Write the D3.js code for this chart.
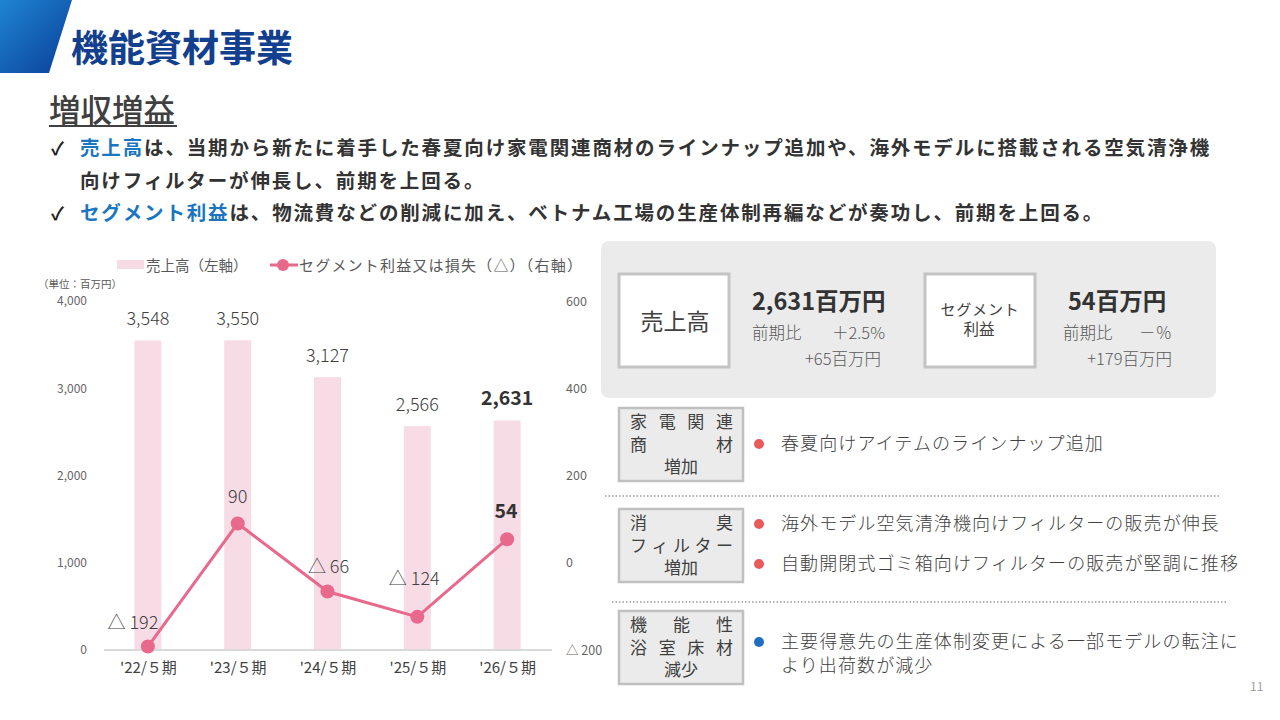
<!DOCTYPE html>
<html><head><meta charset="utf-8">
<script src="https://cdn.jsdelivr.net/npm/d3@7"></script>
<style>
html,body{margin:0;padding:0;background:#fff;}
svg text{font-family:"Noto Sans CJK JP","Noto Sans",sans-serif;}
</style></head>
<body><svg id="c" width="1280" height="720"></svg>
<script>
// ---- data ----
const categories = ["'22/５期","'23/５期","'24/５期","'25/５期","'26/５期"];
const sales = [3548, 3550, 3127, 2566, 2631];
const profit = [-192, 90, -66, -124, 54];
const leftTicks = [0, 1000, 2000, 3000, 4000];
const rightTicks = [-200, 0, 200, 400, 600];
const legendLabels = ["売上高（左軸）", "セグメント利益又は損失（△）（右軸）"];
const unitLabel = "（単位：百万円）";

const svg = d3.select("#c");
const fmtP = d => d < 0 ? "△ " + (-d) : String(d);

// ---- header ----
const defs = svg.append("defs");
const g1 = defs.append("linearGradient").attr("id","hg").attr("x1","0").attr("y1","0").attr("x2","1").attr("y2","1");
g1.append("stop").attr("offset","0").attr("stop-color","#1f84d2");
g1.append("stop").attr("offset","1").attr("stop-color","#0a3f98");
svg.append("path").attr("d","M0,0 L72,0 L49,73 L0,73 Z").attr("fill","url(#hg)");
svg.append("text").attr("x",71).attr("y",62).attr("font-size",37).attr("font-weight",700)
  .attr("fill","#123f8e").text("機能資材事業");

svg.append("text").attr("x",49).attr("y",122).attr("font-size",31.5).attr("font-weight",500)
  .attr("fill","#404040").text("増収増益");
svg.append("rect").attr("x",49).attr("y",125).attr("width",128).attr("height",2).attr("fill","#404040");

const bullets = [
  {y:155, check:true, parts:[["売上高","#1a76c0"],["は、当期から新たに着手した春夏向け家電関連商材のラインナップ追加や、海外モデルに搭載される空気清浄機","#333"]]},
  {y:188, check:false, parts:[["向けフィルターが伸長し、前期を上回る。","#333"]]},
  {y:220, check:true, parts:[["セグメント利益","#1a76c0"],["は、物流費などの削減に加え、ベトナム工場の生産体制再編などが奏功し、前期を上回る。","#333"]]}
];
bullets.forEach(b => {
  if (b.check) svg.append("text").attr("x",51).attr("y",b.y).attr("font-size",18).attr("font-weight",700).attr("fill","#222")
    .attr("font-family","DejaVu Sans").text("✓");
  const t = svg.append("text").attr("x",80).attr("y",b.y).attr("font-size",19.5).attr("font-weight",700)
    .attr("letter-spacing",1.85);
  b.parts.forEach(p => t.append("tspan").attr("fill",p[1]).text(p[0]));
});

// ---- chart ----
const x = d3.scalePoint().domain(categories).range([103, 552]).padding(0.5);
const yL = d3.scaleLinear().domain([0, 4000]).range([650, 301]);
const yR = d3.scaleLinear().domain([-200, 600]).range([650, 301]);
const barW = 27;

// legend
svg.append("rect").attr("x",117).attr("y",260).attr("width",27).attr("height",9).attr("fill","#f7dce6");
svg.append("text").attr("x",146).attr("y",271).attr("font-size",14.5).attr("fill","#595959").text(legendLabels[0]);
svg.append("line").attr("x1",270).attr("x2",298).attr("y1",265).attr("y2",265).attr("stroke","#e8698b").attr("stroke-width",3);
svg.append("circle").attr("cx",283).attr("cy",265).attr("r",6).attr("fill","#e8698b");
svg.append("text").attr("x",299).attr("y",271).attr("font-size",15).attr("letter-spacing",1.2).attr("fill","#595959").text(legendLabels[1]);
svg.append("text").attr("x",38).attr("y",288).attr("font-size",10.5).attr("fill","#595959").text(unitLabel);

// bars
svg.append("g").selectAll("rect").data(sales).join("rect")
  .attr("x",(d,i)=>x(categories[i]) - barW/2).attr("width",barW)
  .attr("y",d=>yL(d)).attr("height",d=>yL(0)-yL(d)).attr("fill","#f7dce6");

// baseline
svg.append("line").attr("x1",104).attr("x2",552).attr("y1",650).attr("y2",650).attr("stroke","#d9d9d9").attr("stroke-width",2);

// axes
const axL = svg.append("g").attr("transform","translate(90,0)")
  .call(d3.axisLeft(yL).tickValues(leftTicks).tickFormat(d3.format(",")).tickSize(0).tickPadding(3));
axL.select(".domain").remove();
axL.selectAll("text").attr("font-size",12).attr("fill","#666").attr("font-family","'Noto Sans CJK JP',sans-serif");

const axR = svg.append("g").attr("transform","translate(563,0)")
  .call(d3.axisRight(yR).tickValues(rightTicks).tickFormat(fmtP).tickSize(0).tickPadding(3));
axR.select(".domain").remove();
axR.selectAll("text").attr("font-size",12.5).attr("fill","#666").attr("font-family","'Noto Sans CJK JP',sans-serif");

const axB = svg.append("g").attr("transform","translate(0,650)")
  .call(d3.axisBottom(x).tickSize(0).tickPadding(12));
axB.select(".domain").remove();
axB.selectAll("text").attr("font-size",15).attr("fill","#404040").attr("font-family","'Noto Sans CJK JP',sans-serif");

// bar labels
svg.append("g").selectAll("text").data(sales).join("text")
  .attr("x",(d,i)=>x(categories[i])).attr("y",d=>yL(d)-15)
  .attr("text-anchor","middle")
  .attr("font-size",(d,i)=> i===sales.length-1 ? 19.5 : 18)
  .attr("font-weight",(d,i)=> i===sales.length-1 ? 700 : 300)
  .attr("fill",(d,i)=> i===sales.length-1 ? "#333" : "#404040")
  .text(d3.format(","));

// line
const line = d3.line().x((d,i)=>x(categories[i])).y(d=>yR(d));
svg.append("path").datum(profit).attr("d",line).attr("fill","none").attr("stroke","#e8698b").attr("stroke-width",3);
svg.append("g").selectAll("circle").data(profit).join("circle")
  .attr("cx",(d,i)=>x(categories[i])).attr("cy",d=>yR(d)).attr("r",7).attr("fill","#e8698b");

const lblOff = [[-15,-18],[0,-20],[1,-19],[-3,-32],[-1,-21]];
svg.append("g").selectAll("text").data(profit).join("text")
  .attr("x",(d,i)=>x(categories[i]) + lblOff[i][0]).attr("y",(d,i)=>yR(d) + lblOff[i][1])
  .attr("text-anchor","middle")
  .attr("font-size",(d,i)=> i===profit.length-1 ? 19.5 : 18)
  .attr("font-weight",(d,i)=> i===profit.length-1 ? 700 : 300)
  .attr("fill",(d,i)=> i===profit.length-1 ? "#333" : "#404040")
  .text(fmtP);

// ---- right summary panel ----
svg.append("rect").attr("x",601).attr("y",241).attr("width",615).attr("height",157).attr("rx",8).attr("fill","#ebebeb");
[619, 925].forEach(bxx=>{
  svg.append("rect").attr("x",bxx).attr("y",274).attr("width",110).attr("height",93)
    .attr("fill","#fff").attr("stroke","#c4c4c4").attr("stroke-width",3);
});
svg.append("text").attr("x",675).attr("y",330).attr("text-anchor","middle").attr("font-size",23).attr("fill","#404040").text("売上高");
svg.append("text").attr("x",980).attr("y",315).attr("text-anchor","middle").attr("font-size",15).attr("fill","#404040").attr("letter-spacing",0.8).text("セグメント");
svg.append("text").attr("x",979).attr("y",335).attr("text-anchor","middle").attr("font-size",15.5).attr("fill","#404040").text("利益");

const sv = [
  {x:752, hx:752, r:885, head:"2,631百万円", pct:"＋2.5%", amt:"+65百万円", ar:881},
  {x:1063, hx:1068, r:1172, head:"54百万円", pct:"－％", amt:"+179百万円", ar:1172}
];
sv.forEach(s=>{
  svg.append("text").attr("x",s.hx).attr("y",310).attr("font-size",23.5).attr("font-weight",700).attr("fill","#333").text(s.head);
  svg.append("text").attr("x",s.x).attr("y",339).attr("font-size",16.5).attr("font-weight",300).attr("fill","#595959").text("前期比");
  svg.append("text").attr("x",s.r).attr("y",339).attr("text-anchor","end").attr("font-size",16.5).attr("font-weight",300).attr("fill","#595959").text(s.pct);
  svg.append("text").attr("x",s.ar).attr("y",365).attr("text-anchor","end").attr("font-size",16.5).attr("font-weight",300).attr("fill","#595959").text(s.amt);
});

// ---- factor rows ----
const rows = [
  {top:408, lines:[["家","電","関","連"],["商","材"],["増加"]], items:[{t:["春夏向けアイテムのラインナップ追加"],y:444,c:"#e95a5a"}]},
  {top:509, lines:[["消","臭"],["フ","ィ","ル","タ","ー"],["増加"]], items:[{t:["海外モデル空気清浄機向けフィルターの販売が伸長"],y:524,c:"#e95a5a"},{t:["自動開閉式ゴミ箱向けフィルターの販売が堅調に推移"],y:564,c:"#e95a5a"}]},
  {top:611, lines:[["機","能","性"],["浴","室","床","材"],["減少"]], items:[{t:["主要得意先の生産体制変更による一部モデルの転注に","より出荷数が減少"],y:642,c:"#1f6fc0"}]}
];
const bx = 619, bw = 124, bh = 73;
rows.forEach(r=>{
  svg.append("rect").attr("x",bx).attr("y",r.top).attr("width",bw).attr("height",bh)
    .attr("fill","#ebebeb").attr("stroke","#c0c0c0").attr("stroke-width",2.5);
  r.lines.forEach((ln,li)=>{
    const yy = r.top + 20 + li*22.5;
    const fs = 17;
    if (ln.length===1){
      svg.append("text").attr("x",bx+bw/2).attr("y",yy).attr("text-anchor","middle").attr("font-size",fs).attr("fill","#404040").text(ln[0]);
    } else {
      const l = bx+11, rr = bx+bw-10-fs;
      ln.forEach((ch,ci)=>{
        svg.append("text").attr("x", l + (rr-l)*ci/(ln.length-1)).attr("y",yy).attr("font-size",fs).attr("fill","#404040").text(ch);
      });
    }
  });
  r.items.forEach(it=>{
    svg.append("circle").attr("cx",759).attr("cy",it.y).attr("r",5).attr("fill",it.c);
    it.t.forEach((s,si)=>{
      svg.append("text").attr("x",781).attr("y",it.y+6+si*24).attr("font-size",18).attr("font-weight",300)
        .attr("letter-spacing",1.1).attr("fill","#404040").text(s);
    });
  });
});
svg.append("line").attr("x1",605).attr("x2",1220).attr("y1",496).attr("y2",496).attr("stroke","#9a9a9a").attr("stroke-width",1.5).attr("stroke-dasharray","1.5,2");
svg.append("line").attr("x1",612).attr("x2",1228).attr("y1",602).attr("y2",602).attr("stroke","#9a9a9a").attr("stroke-width",1.5).attr("stroke-dasharray","1.5,2");

svg.append("text").attr("x",1250).attr("y",691).attr("font-size",12).attr("fill","#a0a0a0").text("11");
</script></body></html>
